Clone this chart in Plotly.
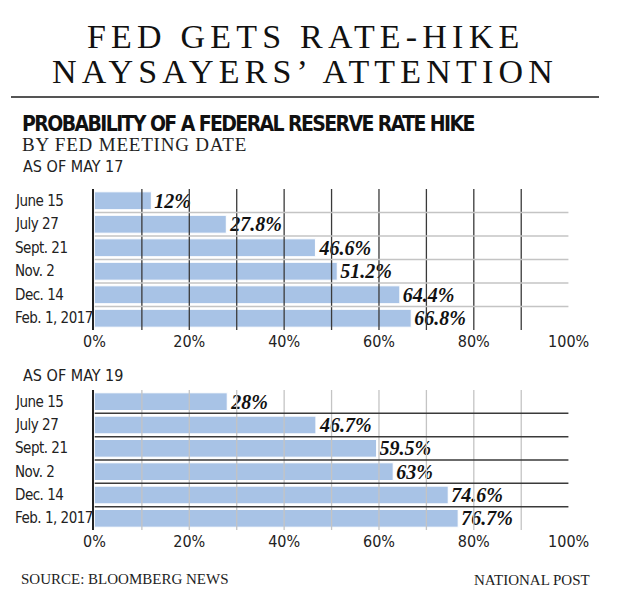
import plotly.graph_objects as go

CATEGORIES = ["June 15", "July 27", "Sept. 21", "Nov. 2", "Dec. 14", "Feb. 1, 2017"]
MAY17 = [12, 27.8, 46.6, 51.2, 64.4, 66.8]
MAY19 = [28, 46.7, 59.5, 63, 74.6, 76.7]
LABELS17 = ["12%", "27.8%", "46.6%", "51.2%", "64.4%", "66.8%"]
LABELS19 = ["28%", "46.7%", "59.5%", "63%", "74.6%", "76.7%"]
TICKS = [0, 20, 40, 60, 80, 100]
TICKTEXT = ["0%", "20%", "40%", "60%", "80%", "100%"]
GRID = [10, 20, 30, 40, 50, 60, 70, 80, 90]

W, H = 620, 610
NARROW = "DejaVu Sans Condensed, DejaVu Sans, sans-serif"
SERIF = "Liberation Serif, DejaVu Serif, serif"
BAR = "#a8c3e6"
DARK = "#3a3a3a"
LIGHT = "#c4c4c4"

def px(x):
    return x / W

def py(y):
    return 1 - y / H

def sp(text, ls):
    return f'<span style="letter-spacing:{ls}px">{text}</span>'

fig = go.Figure()

for vals, labs, xa, ya in [(MAY17, LABELS17, "x", "y"), (MAY19, LABELS19, "x2", "y2")]:
    fig.add_trace(go.Bar(
        x=vals, y=CATEGORIES, orientation="h", xaxis=xa, yaxis=ya,
        marker=dict(color=BAR, line=dict(color="white", width=1)),
        text=labs, textposition="outside", cliponaxis=False, constraintext="none",
        textfont=dict(family=SERIF, size=20, color="#111", style="italic", weight="bold"),
        hoverinfo="skip", showlegend=False,
    ))

xdom = [px(88), px(588)]
common_x = dict(domain=xdom, range=[0, 100], showgrid=False, zeroline=False,
                tickvals=TICKS, ticktext=TICKTEXT, ticks="", showline=False,
                tickfont=dict(family=NARROW, size=16, color="#222"))
common_y = dict(range=[len(CATEGORIES) - 0.5, -0.5], showgrid=False, zeroline=False,
                showticklabels=False, ticks="", showline=True, linecolor="#222", linewidth=2)

fig.update_layout(
    width=W, height=H, margin=dict(l=0, r=0, t=0, b=0),
    paper_bgcolor="white", plot_bgcolor="white", bargap=0.24,
    xaxis=dict(anchor="y", **common_x),
    yaxis=dict(domain=[py(330), py(189)], anchor="x", **common_y),
    xaxis2=dict(anchor="y2", **common_x),
    yaxis2=dict(domain=[py(530), py(390)], anchor="x2", **common_y),
)

shapes = []
for xr, yr, vcol, hcol in [("x", "y", DARK, LIGHT), ("x2", "y2", LIGHT, DARK)]:
    for g in GRID:
        shapes.append(dict(type="line", xref=xr, yref=yr + " domain", x0=g, x1=g, y0=0, y1=1,
                           line=dict(color=vcol, width=1.3), layer="above"))
    for i in range(len(CATEGORIES) - 1):
        shapes.append(dict(type="line", xref=xr, yref=yr, x0=0, x1=100, y0=i + 0.5, y1=i + 0.5,
                           line=dict(color=hcol, width=1.5), layer="above"))
shapes.append(dict(type="line", xref="paper", yref="paper", x0=0, x1=1, y0=py(97), y1=py(97),
                   line=dict(color="#555", width=2)))
fig.update_layout(shapes=shapes)

ann = []
ann.append(dict(text=sp("FED GETS RATE-HIKE", 5.2),
                x=0.5, y=py(36), xref="paper", yref="paper", showarrow=False,
                font=dict(family=SERIF, size=34, color="#111"), xanchor="center", yanchor="middle"))
ann.append(dict(text=sp("NAYSAYERS\u2019 ATTENTION", 5.2),
                x=0.5, y=py(71), xref="paper", yref="paper", showarrow=False,
                font=dict(family=SERIF, size=34, color="#111"), xanchor="center", yanchor="middle"))
ann.append(dict(text="<b>" + sp("PROBABILITY OF A FEDERAL RESERVE RATE HIKE", -1.6) + "</b>",
                x=px(9), y=py(124), xref="paper", yref="paper", showarrow=False,
                xanchor="left", yanchor="middle",
                font=dict(family=NARROW, size=21, color="#111")))
ann.append(dict(text=sp("BY FED MEETING DATE", 0.8), x=px(9), y=py(145), xref="paper", yref="paper",
                showarrow=False, xanchor="left", yanchor="middle",
                font=dict(family=SERIF, size=19, color="#222")))
ann.append(dict(text="AS OF MAY 17", x=px(11), y=py(167), xref="paper", yref="paper",
                showarrow=False, xanchor="left", yanchor="middle",
                font=dict(family=NARROW, size=16, color="#222")))
ann.append(dict(text="AS OF MAY 19", x=px(11), y=py(375), xref="paper", yref="paper",
                showarrow=False, xanchor="left", yanchor="middle",
                font=dict(family=NARROW, size=16, color="#222")))
for ya in ["y", "y2"]:
    for c in CATEGORIES:
        ann.append(dict(text=sp(c, -0.5), x=px(2), y=c, xref="paper", yref=ya, showarrow=False,
                        xanchor="left", yanchor="middle",
                        font=dict(family=NARROW, size=15, color="#222")))
ann.append(dict(text="SOURCE: BLOOMBERG NEWS", x=px(8), y=py(579), xref="paper", yref="paper",
                showarrow=False, xanchor="left", yanchor="middle",
                font=dict(family=SERIF, size=15, color="#222")))
ann.append(dict(text="NATIONAL POST", x=px(613), y=py(580), xref="paper", yref="paper",
                showarrow=False, xanchor="right", yanchor="middle",
                font=dict(family=SERIF, size=15, color="#222")))
fig.update_layout(annotations=ann)

fig.write_html("out.html", config={"displayModeBar": False},
               post_script="document.body.style.margin='0';document.body.style.overflow='hidden';")
